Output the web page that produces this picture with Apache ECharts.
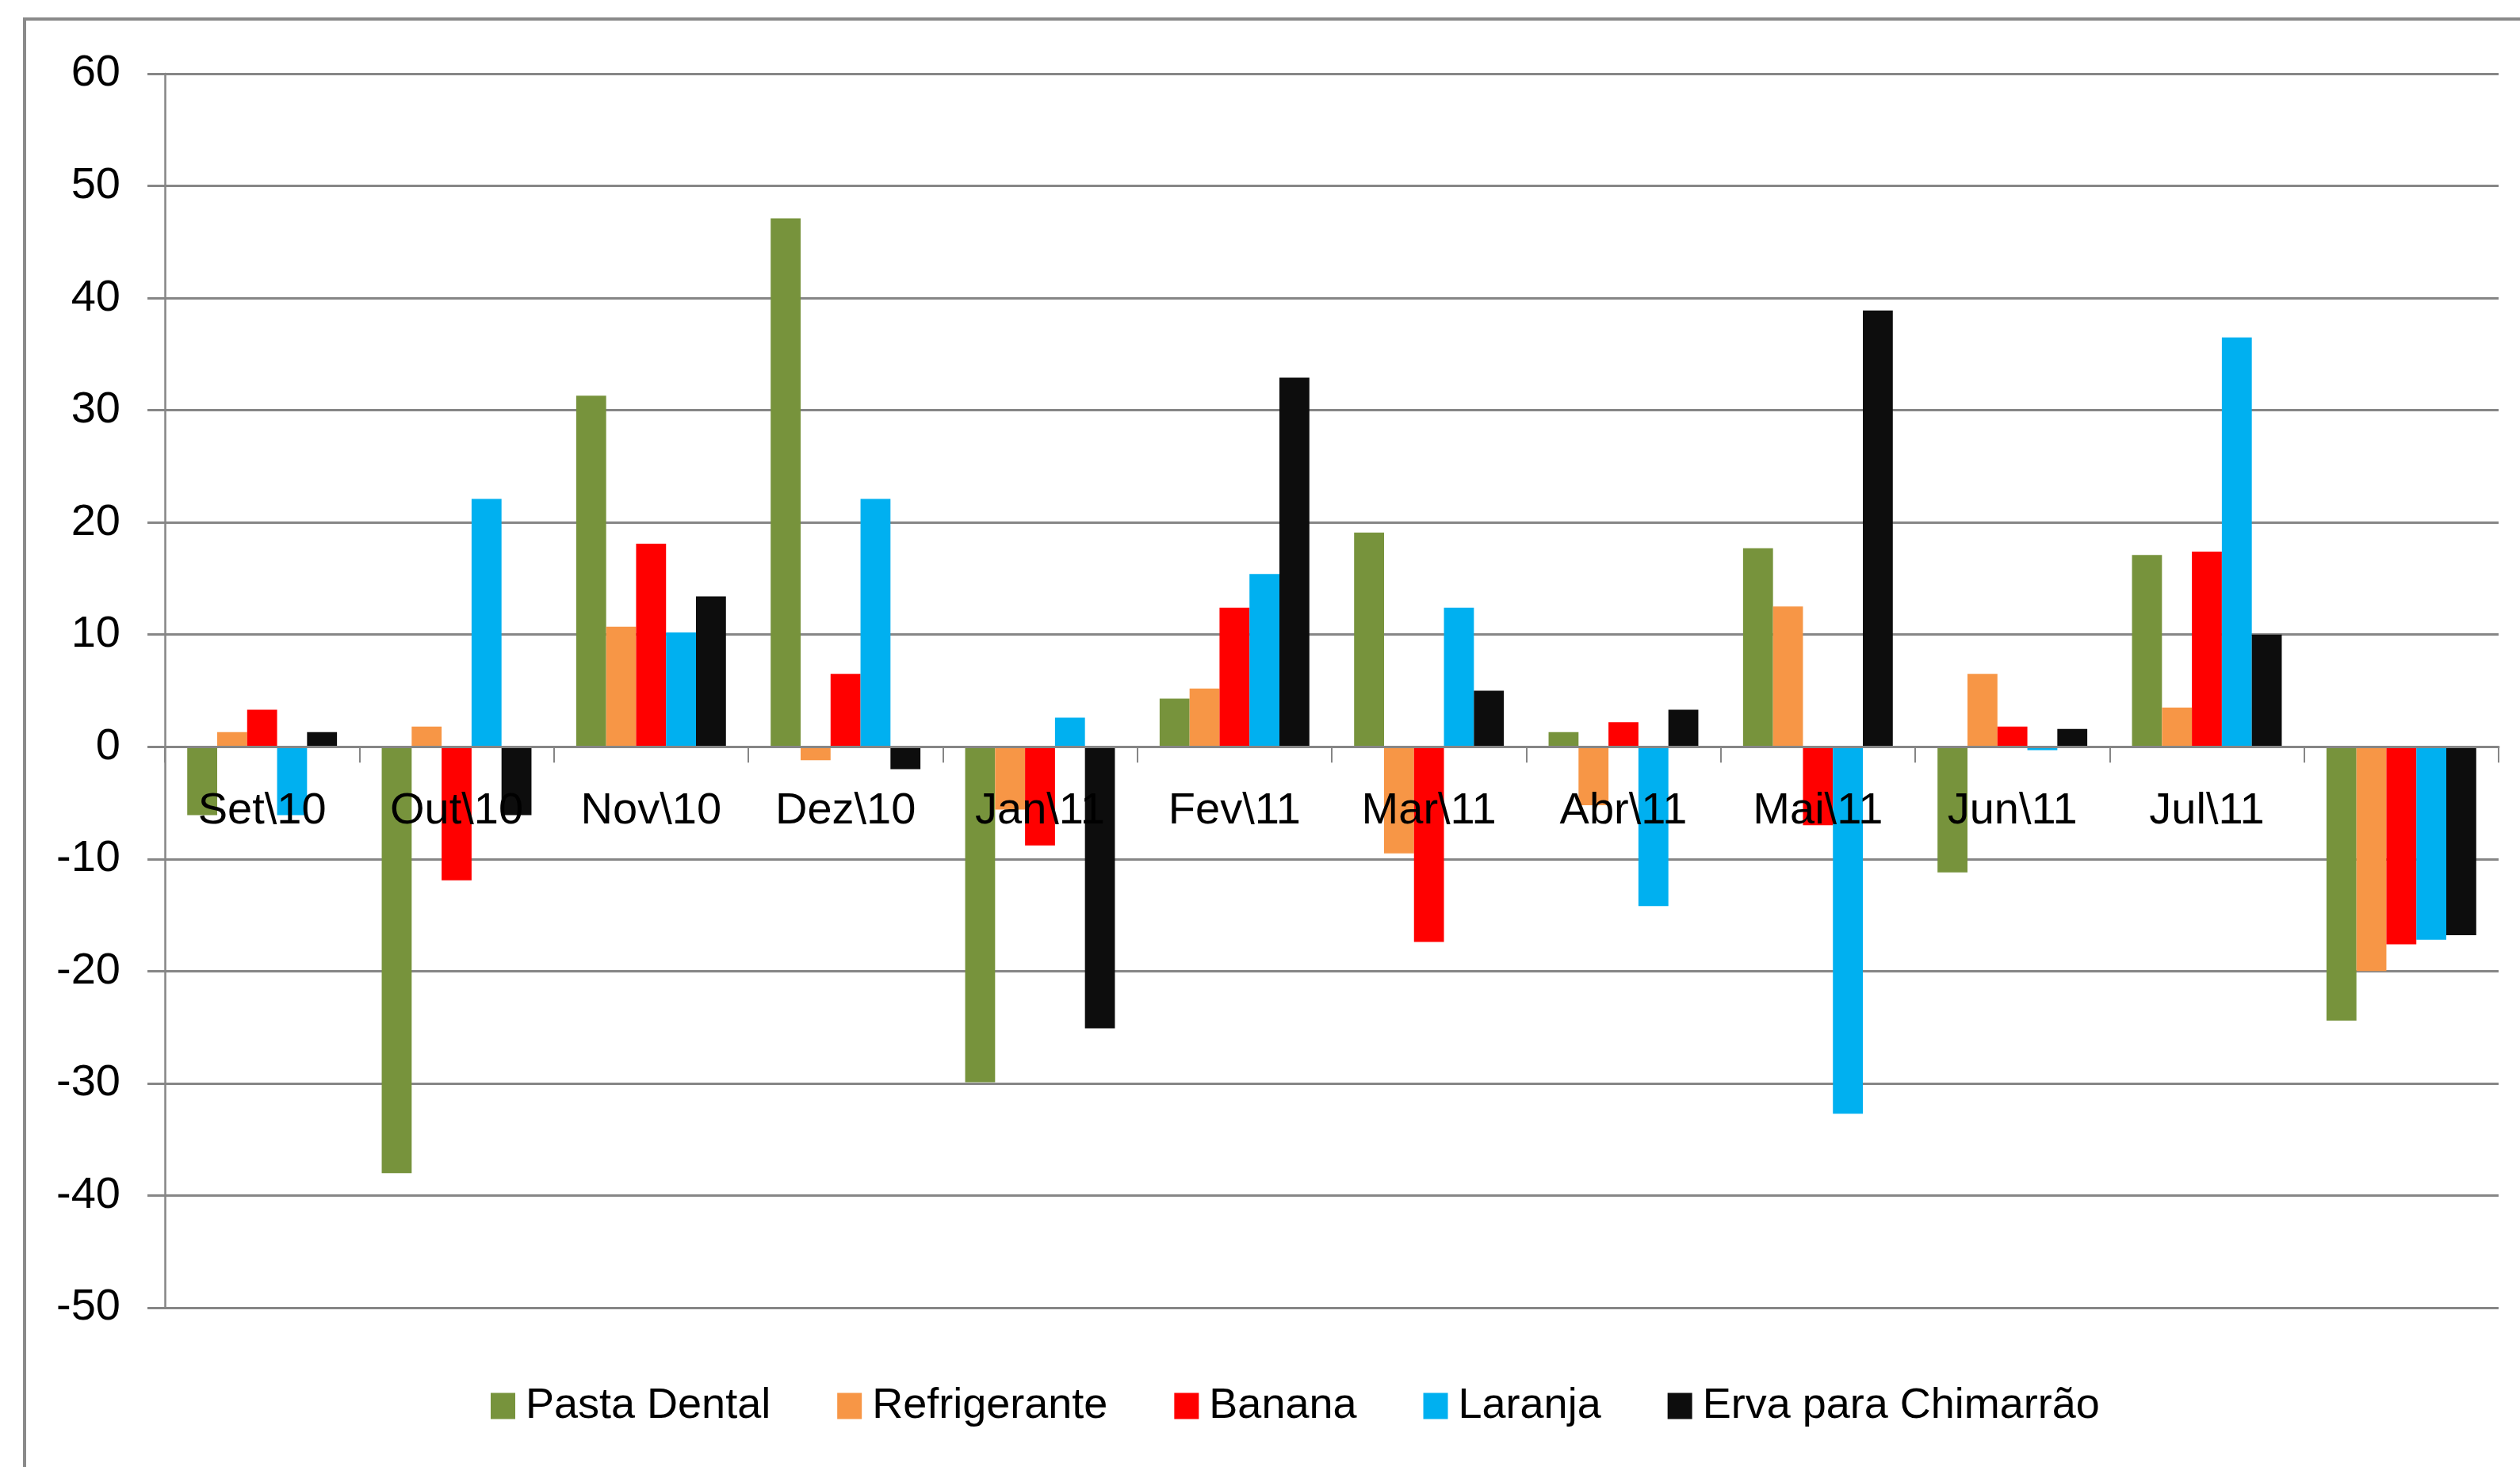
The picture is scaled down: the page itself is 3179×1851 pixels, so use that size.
<!DOCTYPE html>
<html>
<head>
<meta charset="utf-8">
<title>Variação de preços</title>
<script src="https://cdn.jsdelivr.net/npm/echarts@6/dist/echarts.min.js"></script>
<style>
  html, body { margin: 0; padding: 0; background: #fff; overflow: hidden; }
  #chart { width: 3179px; height: 1851px; }
</style>
</head>
<body>
<div id="chart"></div>
<script>
// categorias (o último grupo não tem rótulo no original)
const months = ['Set\\10', 'Out\\10', 'Nov\\10', 'Dez\\10', 'Jan\\11', 'Fev\\11',
  'Mar\\11', 'Abr\\11', 'Mai\\11', 'Jun\\11', 'Jul\\11', ''];

const pastaDental = [-6.1, -38.0, 31.3, 47.1, -29.9, 4.3, 19.1, 1.3, 17.7, -11.2, 17.1, -24.4];
const refrigerante = [1.3, 1.8, 10.7, -1.2, -5.6, 5.2, -9.5, -5.2, 12.5, 6.5, 3.5, -20.0];
const banana = [3.3, -11.9, 18.1, 6.5, -8.8, 12.4, -17.4, 2.2, -7.0, 1.8, 17.4, -17.6];
const laranja = [-6.1, 22.1, 10.2, 22.1, 2.6, 15.4, 12.4, -14.2, -32.7, -0.3, 36.5, -17.2];
const erva = [1.3, -6.1, 13.4, -2.0, -25.1, 32.9, 5.0, 3.3, 38.9, 1.6, 10.0, -16.8];

const seriesNames = ['Pasta Dental', 'Refrigerante', 'Banana', 'Laranja', 'Erva para Chimarrão'];
const seriesColors = ['#77933C', '#F79646', '#FF0000', '#00B0F0', '#0D0D0D'];
const seriesData = [pastaDental, refrigerante, banana, laranja, erva];

const yTicks = { min: -50, max: 60, interval: 10 };

const FONT = '"Liberation Sans", Arial, sans-serif';
const GRAY = '#868686';

// área do gráfico
const gridBox = { left: 208, right: 27, top: 93, bottom: 201 };
const plotHeight = 1851 - gridBox.top - gridBox.bottom;
// o eixo das categorias (linha, marcas e rótulos) fica na linha do zero
const zeroOffset = -plotHeight * (0 - yTicks.min) / (yTicks.max - yTicks.min);

const chart = echarts.init(document.getElementById('chart'));

chart.setOption({
  animation: false,
  backgroundColor: '#fff',
  textStyle: { fontFamily: FONT },
  // moldura externa do gráfico (só esquerda e topo aparecem)
  graphic: [{
    type: 'rect',
    shape: { x: 31, y: 24, width: 3400, height: 2100 },
    style: { fill: 'none', stroke: '#8a8a8a', lineWidth: 4 },
    silent: true
  }],
  grid: Object.assign({ containLabel: false }, gridBox),
  legend: {
    left: 614,
    top: 1742,
    itemWidth: 31,
    itemHeight: 33,
    itemGap: 84,
    icon: 'rect',
    textStyle: { fontSize: 54, color: '#000', fontFamily: FONT, padding: [0, 0, 0, 8] },
    data: seriesNames
  },
  xAxis: {
    type: 'category',
    data: months,
    z: 10,
    offset: zeroOffset,
    axisLine: { onZero: false, lineStyle: { color: GRAY, width: 3 } },
    axisTick: { show: true, length: 20, lineStyle: { color: GRAY, width: 2 } },
    axisLabel: { interval: 0, margin: 53, fontSize: 56, color: '#000', fontFamily: FONT },
    splitLine: { show: false }
  },
  yAxis: {
    type: 'value',
    min: yTicks.min,
    max: yTicks.max,
    interval: yTicks.interval,
    axisLine: { show: true, lineStyle: { color: GRAY, width: 2.5 } },
    axisTick: { show: true, length: 22, lineStyle: { color: GRAY, width: 3 } },
    axisLabel: { margin: 56, fontSize: 56, color: '#000', fontFamily: FONT },
    splitLine: { show: true, lineStyle: { color: GRAY, width: 3 } }
  },
  series: seriesNames.map((name, i) => ({
    name: name,
    type: 'bar',
    data: seriesData[i],
    barGap: '0%',
    barCategoryGap: '23%',
    itemStyle: { color: seriesColors[i] }
  }))
});
</script>
</body>
</html>
